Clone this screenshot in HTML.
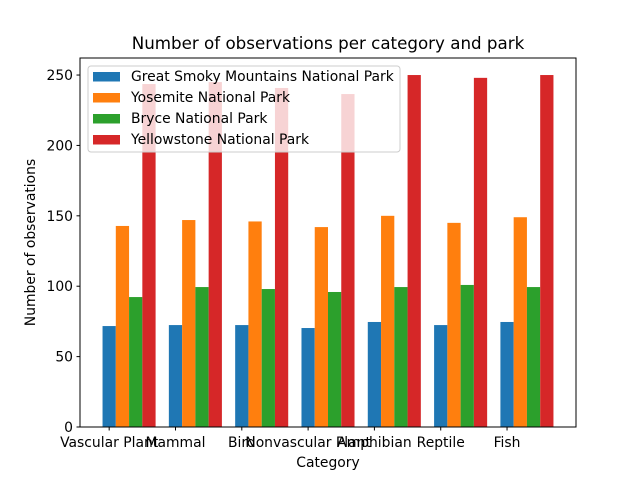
<!DOCTYPE html>
<html><head><meta charset="utf-8"><style>
body{margin:0;background:#fff}
svg text{font-family:"DejaVu Sans","Liberation Sans",sans-serif;fill:#000}
</style></head><body>
<svg id="c" width="640" height="480" viewBox="0 0 640 480">
<rect width="640" height="480" fill="#fff"/>
<text x="328" y="49" font-size="16.7" text-anchor="middle">Number of observations per category and park</text>
<g id="bars"></g>
<g id="axes"></g>
<rect x="80" y="58" width="496" height="369" fill="none" stroke="#000" stroke-width="1"/>
<text x="328" y="467" font-size="13.9" text-anchor="middle">Category</text>
<text transform="translate(35,242.5) rotate(-90)" font-size="13.9" text-anchor="middle">Number of observations</text>
<g id="legend"></g>
</svg>
<script>
const categories=["Vascular Plant","Mammal","Bird","Nonvascular Plant","Amphibian","Reptile","Fish"];
const parks=["Great Smoky Mountains National Park","Yosemite National Park","Bryce National Park","Yellowstone National Park"];
const smoky=[71.7,72.4,72.4,70.3,74.6,72.4,74.6];
const yosemite=[142.8,147,146,142,150,145,149];
const bryce=[92.3,99.4,98,95.9,99.4,100.9,99.4];
const yellowstone=[243.6,245,240.8,236.5,250,248,250];
const yTicks=[0,50,100,150,200,250];
const series=[smoky,yosemite,bryce,yellowstone];
const colors=["#1f77b4","#ff7f0e","#2ca02c","#d62728"];
const NS="http://www.w3.org/2000/svg";
const W=0.2,xmin=-0.44,xmax=7.04,ymax=262.1;
const X=v=>80+(v-xmin)/(xmax-xmin)*496;
const Y=v=>427-v/ymax*369;
function mk(t,a,p){const e=document.createElementNS(NS,t);for(const k in a)e.setAttribute(k,a[k]);p.appendChild(e);return e;}
const bars=document.getElementById('bars');
series.forEach((s,j)=>s.forEach((v,i)=>{
  const c=i+j*W;
  const r=mk('rect',{x:X(c-W/2),y:Y(v),width:X(c+W/2)-X(c-W/2),height:Y(0)-Y(v),fill:colors[j]},bars);
  
  
}));
const axes=document.getElementById('axes');
yTicks.forEach(t=>{
  mk('line',{x1:76.5,x2:80,y1:Y(t),y2:Y(t),stroke:'#000'},axes);
  const tx=mk('text',{x:73,y:Y(t)+5,'font-size':13.9,'text-anchor':'end'},axes);tx.textContent=t;
  
  
});
categories.forEach((c,i)=>{
  mk('line',{x1:X(i),x2:X(i),y1:427,y2:430.5,stroke:'#000'},axes);
  const tx=mk('text',{x:X(i),y:447,'font-size':13.9,'text-anchor':'middle'},axes);tx.textContent=c;
  
  
});
const lg=document.getElementById('legend');


mk('rect',{x:88,y:66,width:312,height:86,rx:3,fill:'#fff','fill-opacity':0.8,stroke:'#ccc'},lg);
parks.forEach((p,j)=>{
  const y=76+j*21;
  mk('rect',{x:93,y:y-4,width:27,height:9.5,fill:colors[j]},lg);
  const tx=mk('text',{x:131,y:y+5,'font-size':13.9},lg);tx.textContent=p;
  
  
});
</script>
</body></html>
